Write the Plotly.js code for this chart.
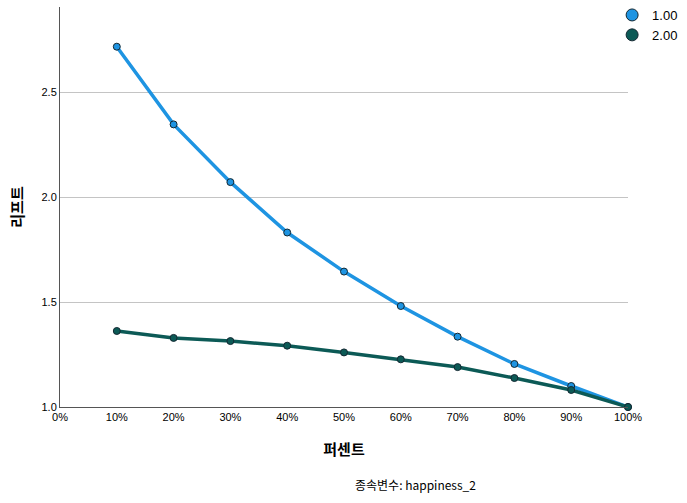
<!DOCTYPE html>
<html>
<head>
<meta charset="utf-8">
<script src="https://cdn.plot.ly/plotly-3.0.1.min.js"></script>
<style>html,body{margin:0;padding:0;background:#fff}#chart{width:687px;height:503px}</style>
</head>
<body>
<div id="chart"></div>
<script>
const percents = [10, 20, 30, 40, 50, 60, 70, 80, 90, 100];
const lift1 = [2.716, 2.346, 2.071, 1.831, 1.645, 1.481, 1.335, 1.205, 1.100, 1.000];
const lift2 = [1.362, 1.329, 1.314, 1.292, 1.260, 1.227, 1.190, 1.138, 1.081, 1.000];
const seriesNames = ['1.00', '2.00'];
const xTicks = [0, 10, 20, 30, 40, 50, 60, 70, 80, 90, 100];
const xTickText = ['0%', '10%', '20%', '30%', '40%', '50%', '60%', '70%', '80%', '90%', '100%'];
const yTicks = [1.0, 1.5, 2.0, 2.5];
const yTickText = ['1.0', '1.5', '2.0', '2.5'];

const blue = 'rgb(30,148,226)';
const green = 'rgb(12,90,86)';
const edge = 'rgb(20,40,50)';
const sans = 'Arial, "Liberation Sans", sans-serif';

const traces = [
  {x: percents, y: lift1, mode: 'lines+markers', name: seriesNames[0], showlegend: false,
   line: {color: blue, width: 3.5}, marker: {color: blue, size: 7, line: {color: edge, width: 1}}, cliponaxis: false},
  {x: percents, y: lift2, mode: 'lines+markers', name: seriesNames[1], showlegend: false,
   line: {color: green, width: 3.5}, marker: {color: green, size: 7, line: {color: edge, width: 1}}, cliponaxis: false},
  {x: [null], y: [null], mode: 'markers', name: seriesNames[0], showlegend: true,
   marker: {color: blue, size: 12, line: {color: edge, width: 1}}},
  {x: [null], y: [null], mode: 'markers', name: seriesNames[1], showlegend: true,
   marker: {color: green, size: 12, line: {color: edge, width: 1}}}
];

const layout = {
  width: 687, height: 503,
  margin: {l: 60, r: 59, t: 7, b: 96, autoexpand: false},
  paper_bgcolor: '#fff', plot_bgcolor: '#fff',
  font: {family: sans, size: 11, color: '#000'},
  showlegend: true,
  legend: {xref: 'container', yref: 'container', x: 0.891, xanchor: 'left', y: 1.005, yanchor: 'top',
           font: {family: sans, size: 13, color: '#000'}, tracegroupgap: 0, itemwidth: 30,
           bgcolor: 'rgba(0,0,0,0)'},
  xaxis: {range: [0, 100], tickvals: xTicks, ticktext: xTickText, showgrid: false, zeroline: false,
          showline: true, linecolor: '#555', linewidth: 1, ticks: '', ticklen: 0,
          tickfont: {family: sans, size: 11},
          title: {text: '<b>퍼센트</b>', font: {family: 'Noto Sans CJK KR', size: 15}, standoff: 22}},
  yaxis: {range: [1.0, 2.905], tickvals: yTicks, ticktext: yTickText, showgrid: true, gridcolor: '#c4c4c4',
          gridwidth: 1, zeroline: false, showline: true, linecolor: '#555', linewidth: 1, ticks: '',
          tickfont: {family: sans, size: 11},
          title: {text: '<b>리프트</b>', font: {family: 'Noto Sans CJK KR', size: 15}, standoff: 14}},
  annotations: [
    {text: '종속변수: happiness_2', xref: 'paper', yref: 'paper', x: 0.625, y: -0.193, xanchor: 'center', yanchor: 'middle',
     showarrow: false, font: {family: 'Noto Sans CJK KR', size: 12, color: '#000'}}
  ]
};

Plotly.newPlot('chart', traces, layout, {displayModeBar: false, staticPlot: true});
</script>
</body>
</html>
